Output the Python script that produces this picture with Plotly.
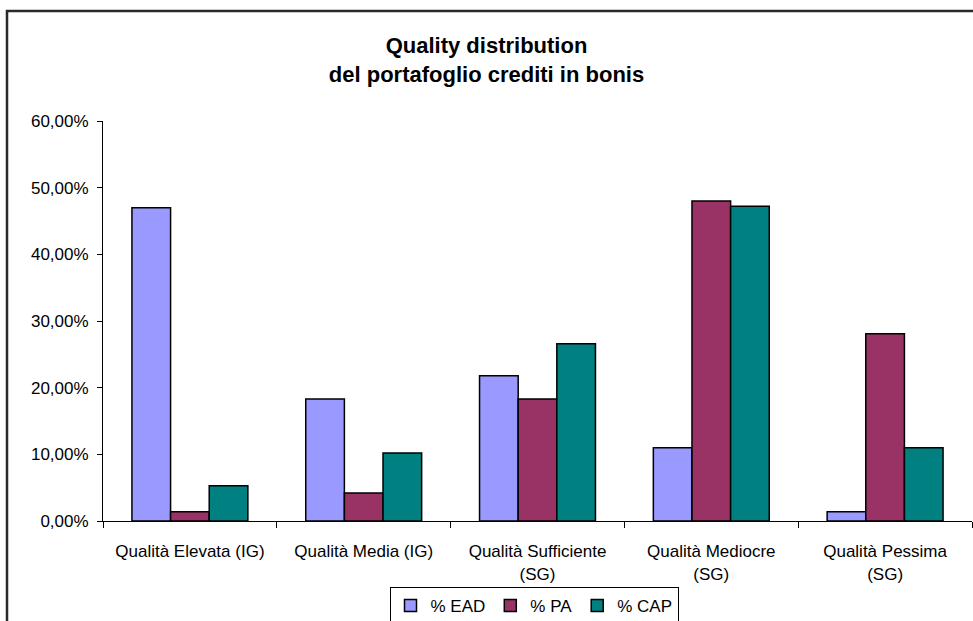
import plotly.graph_objects as go

# Quality buckets of the performing loan portfolio
categories = [
    "Qualità Elevata (IG)",
    "Qualità Media (IG)",
    "Qualità Sufficiente<br>(SG)",
    "Qualità Mediocre<br>(SG)",
    "Qualità Pessima<br>(SG)",
]

# Shares per bucket (fractions of the total)
ead = [0.470, 0.183, 0.218, 0.110, 0.014]
pa = [0.014, 0.042, 0.183, 0.480, 0.281]
cap = [0.053, 0.102, 0.266, 0.472, 0.110]

series_names = ["% EAD", "% PA", "% CAP"]
series_colors = ["#9999FF", "#993366", "#008080"]

W, H = 973, 621
ML, MR, MT, MB = 103, 1, 121, 100
FONT = "Liberation Sans, Arial, sans-serif"

fig = go.Figure()
for name, vals, col in zip(series_names, [ead, pa, cap], series_colors):
    fig.add_trace(go.Bar(
        x=categories, y=vals, name=name,
        marker=dict(color=col, line=dict(color="#000000", width=1.5)),
    ))

plot_w = W - ML - MR
plot_h = H - MT - MB


def px_x(px):
    return (px - ML) / plot_w


def px_y(px):
    return (H - MB - px) / plot_h


# outer chart frame (continues past the right and bottom edges)
fig.add_shape(
    type="rect", xref="paper", yref="paper",
    x0=px_x(7), x1=px_x(990), y0=px_y(11), y1=px_y(640),
    line=dict(color="#2a2a2a", width=2.5), fillcolor="rgba(0,0,0,0)",
    layer="below",
)

fig.update_layout(
    width=W, height=H,
    margin=dict(l=ML, r=MR, t=MT, b=MB, autoexpand=False),
    paper_bgcolor="white", plot_bgcolor="white",
    separators=",.",
    font=dict(family=FONT, size=17, color="#000000"),
    barmode="group", bargap=0.333, bargroupgap=0,
    title=dict(
        text="<b>Quality distribution<br>del portafoglio crediti in bonis</b>",
        x=0.5, xref="container", xanchor="center",
        y=1 - 53 / H, yref="container", yanchor="top",
        font=dict(family=FONT, size=22, color="#000000"),
    ),
    xaxis=dict(
        showline=True, linecolor="#000000", linewidth=1,
        ticks="outside", tickson="boundaries", ticklen=6,
        tickcolor="#000000", showgrid=False,
        tickfont=dict(size=17), ticklabelstandoff=15,
    ),
    yaxis=dict(
        range=[0, 0.6], dtick=0.1, tickformat=".2%",
        showline=True, linecolor="#000000", linewidth=1,
        ticks="outside", ticklen=5, tickcolor="#000000",
        showgrid=False, zeroline=False,
        tickfont=dict(size=17), ticklabelstandoff=5,
    ),
    legend=dict(
        orientation="h",
        x=px_x(534), xanchor="center",
        y=px_y(587), yanchor="top",
        bordercolor="#000000", borderwidth=1,
        bgcolor="white",
        font=dict(size=17),
        itemwidth=30,
    ),
)

fig.write_html("out.html")
